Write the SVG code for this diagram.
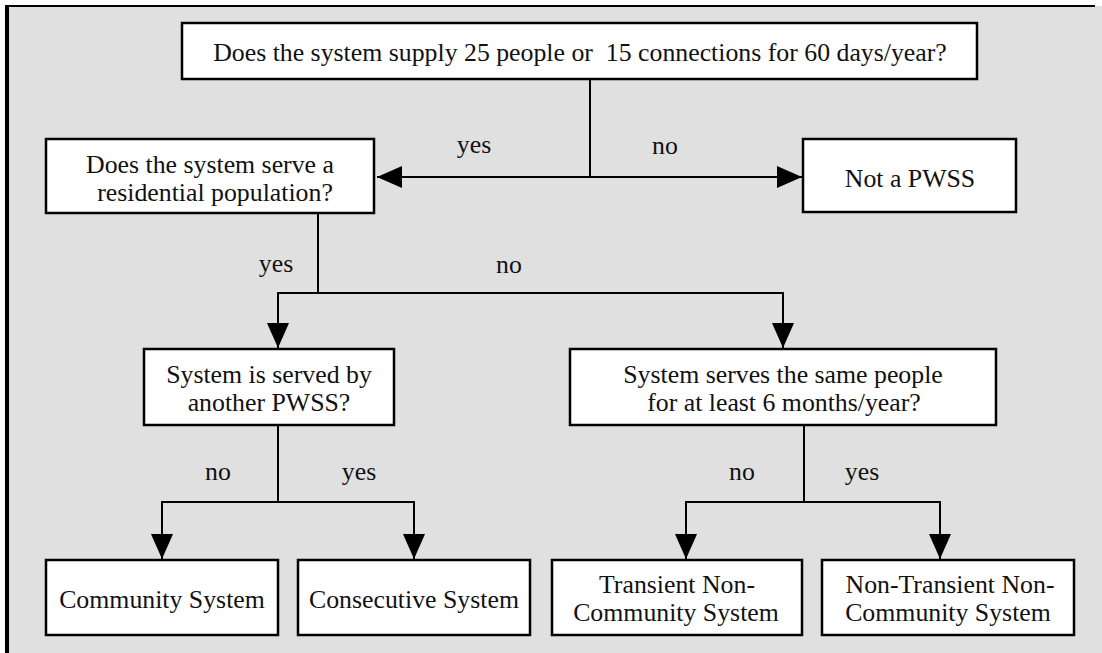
<svg xmlns="http://www.w3.org/2000/svg" width="1102" height="653" viewBox="0 0 1102 653">
<style>
.box{fill:#ffffff;stroke:#000000;stroke-width:2.5}
.t{font-family:"Liberation Serif","Times New Roman",serif;font-size:25.8px;fill:#111111;text-anchor:middle}
.c{fill:none;stroke:#000000;stroke-width:2}
</style>
<defs>
<marker id="ah" markerUnits="userSpaceOnUse" markerWidth="25" markerHeight="22" refX="25" refY="11" orient="auto" viewBox="0 0 25 22">
<path d="M0,0 L25,11 L0,22 z" fill="#000000"/>
</marker>
</defs>
<rect x="0" y="0" width="1102" height="653" fill="#ffffff"/>
<rect x="7" y="6" width="1095" height="647" fill="#e0e0e0"/>
<g id="frame">
<line x1="7" y1="5" x2="7" y2="653" stroke="#000" stroke-width="4"/>
<line x1="5" y1="6" x2="1095" y2="6" stroke="#000" stroke-width="2"/>
</g>
<g id="connectors">
<path class="c" d="M590,79 V177 H377" marker-end="url(#ah)"/>
<path class="c" d="M590,177 H802" marker-end="url(#ah)"/>
<path class="c" d="M318,213 V293 H278 V348" marker-end="url(#ah)"/>
<path class="c" d="M318,293 H783 V348" marker-end="url(#ah)"/>
<path class="c" d="M278,425 V502 H162 V559" marker-end="url(#ah)"/>
<path class="c" d="M278,502 H414 V559" marker-end="url(#ah)"/>
<path class="c" d="M804,425 V502 H686 V559" marker-end="url(#ah)"/>
<path class="c" d="M804,502 H940 V559" marker-end="url(#ah)"/>
<text class="t" x="474" y="153">yes</text>
<text class="t" x="665" y="154">no</text>
<text class="t" x="276" y="272">yes</text>
<text class="t" x="509" y="273">no</text>
<text class="t" x="218" y="480">no</text>
<text class="t" x="359" y="480">yes</text>
<text class="t" x="742" y="480">no</text>
<text class="t" x="862" y="480">yes</text>
</g>
<g id="q1">
<rect class="box" x="182" y="23" width="795" height="56"/>
<text class="t" x="580" y="61" xml:space="preserve">Does the system supply 25 people or  15 connections for 60 days/year?</text>
</g>
<g id="q2">
<rect class="box" x="46" y="139" width="328" height="74"/>
<text class="t" x="210" y="173">Does the system serve a</text>
<text class="t" x="215" y="201">residential population?</text>
</g>
<g id="notpwss">
<rect class="box" x="803" y="139" width="213" height="73"/>
<text class="t" x="910" y="187">Not a PWSS</text>
</g>
<g id="q3">
<rect class="box" x="144" y="349" width="250" height="76"/>
<text class="t" x="269" y="383">System is served by</text>
<text class="t" x="269" y="411">another PWSS?</text>
</g>
<g id="q4">
<rect class="box" x="570" y="349" width="426" height="76"/>
<text class="t" x="783" y="383">System serves the same people</text>
<text class="t" x="784" y="411">for at least 6 months/year?</text>
</g>
<g id="community">
<rect class="box" x="46" y="560" width="232" height="75"/>
<text class="t" x="162" y="608">Community System</text>
</g>
<g id="consecutive">
<rect class="box" x="298" y="560" width="232" height="75"/>
<text class="t" x="414" y="608">Consecutive System</text>
</g>
<g id="transient">
<rect class="box" x="552" y="560" width="250" height="75"/>
<text class="t" x="677" y="593">Transient Non-</text>
<text class="t" x="676" y="621">Community System</text>
</g>
<g id="nontransient">
<rect class="box" x="822" y="560" width="252" height="75"/>
<text class="t" x="950" y="593">Non-Transient Non-</text>
<text class="t" x="948" y="621">Community System</text>
</g>
</svg>
